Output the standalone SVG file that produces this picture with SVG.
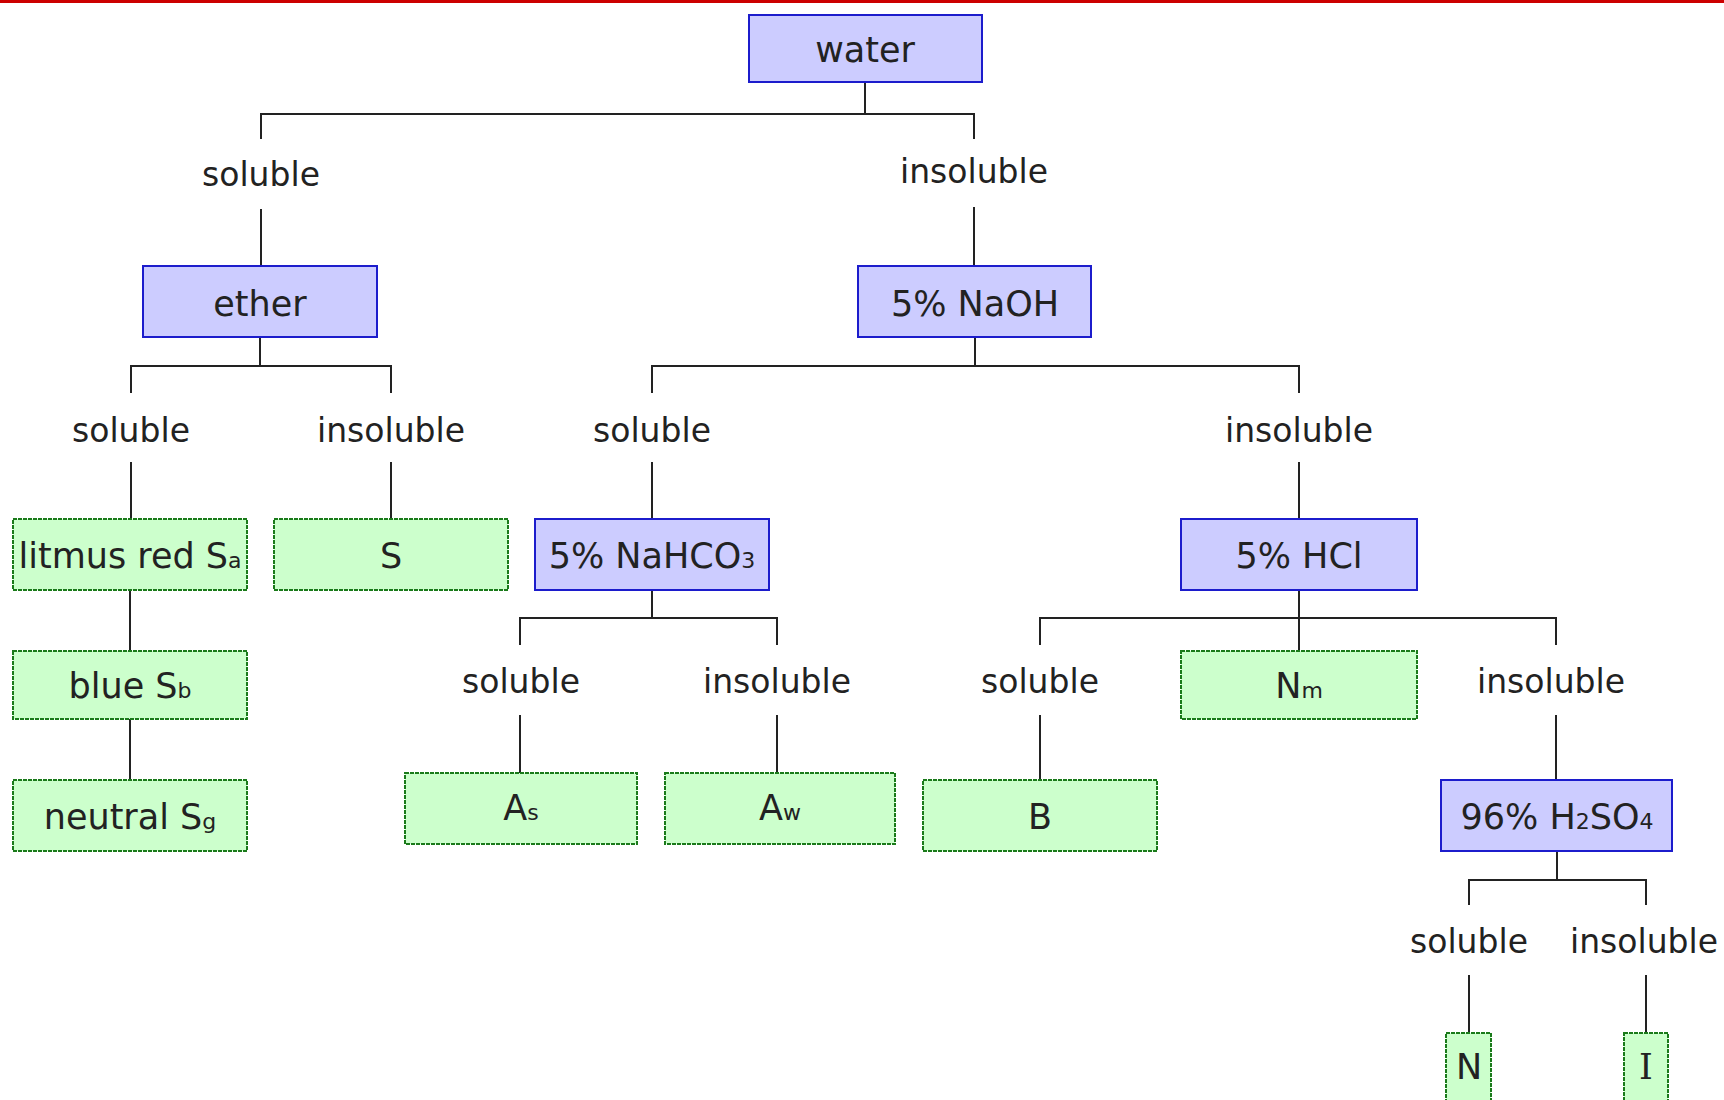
<svg xmlns="http://www.w3.org/2000/svg" width="1724" height="1100" viewBox="0 0 1724 1100">
<style>
.blue{fill:#ccccff;stroke:#1c1ccc;stroke-width:2}
.green{fill:#ccffcc;stroke:#1a7a1a;stroke-width:2;stroke-dasharray:4 1}
.t{font-family:"DejaVu Sans",sans-serif;font-size:35px;fill:#222;text-anchor:middle}
.l{font-family:"DejaVu Sans",sans-serif;font-size:33px;fill:#222;text-anchor:middle}
.sub{font-size:22px}
.c{fill:none;stroke:#222;stroke-width:2}
</style>
<rect x="0" y="0" width="1724" height="1100" fill="#fff"/>
<rect x="0" y="0" width="1724" height="3" fill="#cc0000"/>
<g id="connectors" class="c">
<path d="M865 82V114M261 139V114H974V139"/>
<path d="M261 209V266M974 207V266"/>
<path d="M260 337V366M131 393V366H391V393"/>
<path d="M131 462V519M391 462V519"/>
<path d="M975 337V366M652 393V366H1299V393"/>
<path d="M652 462V519M1299 462V519"/>
<path d="M130 590V651M130 719V780"/>
<path d="M652 590V618M520 645V618H777V645"/>
<path d="M520 715V773M777 715V773"/>
<path d="M1299 590V651M1040 645V618H1556V645"/>
<path d="M1040 715V780M1556 715V780"/>
<path d="M1557 851V880M1469 905V880H1646V905"/>
<path d="M1469 975V1033M1646 975V1033"/>
</g>
<g id="labels">
<text class="l" x="261" y="186">soluble</text>
<text class="l" x="974" y="183">insoluble</text>
<text class="l" x="131" y="442">soluble</text>
<text class="l" x="391" y="442">insoluble</text>
<text class="l" x="652" y="442">soluble</text>
<text class="l" x="1299" y="442">insoluble</text>
<text class="l" x="521" y="693">soluble</text>
<text class="l" x="777" y="693">insoluble</text>
<text class="l" x="1040" y="693">soluble</text>
<text class="l" x="1551" y="693">insoluble</text>
<text class="l" x="1469" y="953">soluble</text>
<text class="l" x="1644" y="953">insoluble</text>
</g>
<g id="water"><rect class="blue" x="749" y="15" width="233" height="67"/><text class="t" x="865" y="62">water</text></g>
<g id="ether"><rect class="blue" x="143" y="266" width="234" height="71"/><text class="t" x="260" y="316">ether</text></g>
<g id="naoh"><rect class="blue" x="858" y="266" width="233" height="71"/><text class="t" x="975" y="316">5% NaOH</text></g>
<g id="litmus"><rect class="green" x="13" y="519" width="234" height="71"/><text class="t" x="130" y="568">litmus red S<tspan class="sub">a</tspan></text></g>
<g id="s"><rect class="green" x="274" y="519" width="234" height="71"/><text class="t" x="391" y="568">S</text></g>
<g id="nahco3"><rect class="blue" x="535" y="519" width="234" height="71"/><text class="t" x="652" y="568">5% NaHCO<tspan class="sub">3</tspan></text></g>
<g id="hcl"><rect class="blue" x="1181" y="519" width="236" height="71"/><text class="t" x="1299" y="568">5% HCl</text></g>
<g id="blue"><rect class="green" x="13" y="651" width="234" height="68"/><text class="t" x="130" y="698">blue S<tspan class="sub">b</tspan></text></g>
<g id="nm"><rect class="green" x="1181" y="651" width="236" height="68"/><text class="t" x="1299" y="698">N<tspan class="sub">m</tspan></text></g>
<g id="as"><rect class="green" x="405" y="773" width="232" height="71"/><text class="t" x="521" y="820">A<tspan class="sub">s</tspan></text></g>
<g id="aw"><rect class="green" x="665" y="773" width="230" height="71"/><text class="t" x="780" y="820">A<tspan class="sub">w</tspan></text></g>
<g id="neutral"><rect class="green" x="13" y="780" width="234" height="71"/><text class="t" x="130" y="829">neutral S<tspan class="sub">g</tspan></text></g>
<g id="b"><rect class="green" x="923" y="780" width="234" height="71"/><text class="t" x="1040" y="829">B</text></g>
<g id="h2so4"><rect class="blue" x="1441" y="780" width="231" height="71"/><text class="t" x="1557" y="829">96% H<tspan class="sub">2</tspan>SO<tspan class="sub">4</tspan></text></g>
<g id="n"><rect class="green" x="1446" y="1033" width="45" height="80"/><text class="t" x="1469" y="1079">N</text></g>
<g id="i"><rect class="green" x="1624" y="1033" width="44" height="80"/><text class="t" x="1646" y="1079" style="font-family:'DejaVu Serif',serif">I</text></g>
</svg>
